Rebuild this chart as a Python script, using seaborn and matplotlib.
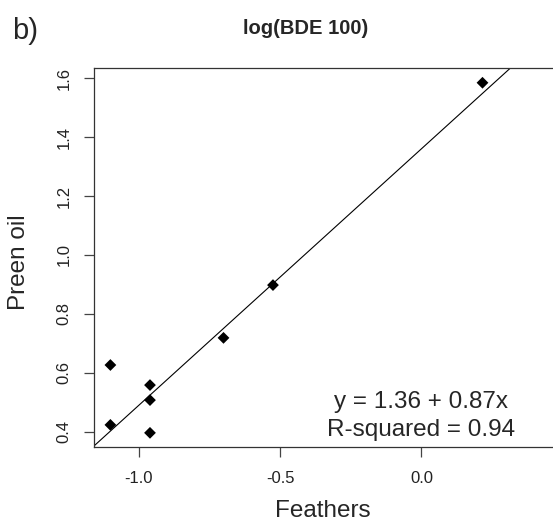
import matplotlib
matplotlib.use("Agg")
import matplotlib.pyplot as plt
import seaborn as sns
import numpy as np
import pandas as pd

# Data
feathers = [-1.10, -0.96, -0.96, -1.10, -0.96, -0.70, -0.525, 0.216]
preen_oil = [0.627, 0.559, 0.508, 0.424, 0.397, 0.719, 0.898, 1.584]
intercept = 1.36
slope = 0.87
x_ticks = [-1.0, -0.5, 0.0]
x_tick_labels = ["-1.0", "-0.5", "0.0"]
y_ticks = [0.4, 0.6, 0.8, 1.0, 1.2, 1.4, 1.6]
y_tick_labels = ["0.4", "0.6", "0.8", "1.0", "1.2", "1.4", "1.6"]
title = "log(BDE 100)"
panel = "b)"
eq_text = "y = 1.36 + 0.87x"
r2_text = "R-squared = 0.94"

sns.set_style("ticks")
plt.rcParams['font.family'] = ['Liberation Sans', 'DejaVu Sans']

W, H = 553, 524
fig = plt.figure(figsize=(W / 100, H / 100), dpi=100)
ax = fig.add_axes([94 / W, 1 - 447 / H, (556 - 94) / W, (447 - 68) / H])

xlim = (-1.158, 0.476)
ylim = (0.349, 1.634)

df = pd.DataFrame({"Feathers": feathers, "Preen oil": preen_oil})

# regression line across the whole axis range
lx = np.array(xlim)
line_df = pd.DataFrame({"x": lx, "y": intercept + slope * lx})
sns.lineplot(data=line_df, x="x", y="y", ax=ax, color="black", linewidth=0.8)

sns.scatterplot(data=df, x="Feathers", y="Preen oil", ax=ax, marker="D",
                s=36, color="black", edgecolor="none", zorder=3)

ax.set_xlim(*xlim)
ax.set_ylim(*ylim)
ax.set_xticks(x_ticks)
ax.set_xticklabels(x_tick_labels)
ax.set_yticks(y_ticks)
ax.set_yticklabels(y_tick_labels, rotation=90, va="center")
ax.tick_params(axis="both", direction="out", length=7, width=0.9,
               color="#444444", labelsize=12, labelcolor="#222222")
ax.tick_params(axis="x", pad=10)
ax.tick_params(axis="y", pad=9)
for s in ax.spines.values():
    s.set_visible(True)
    s.set_linewidth(0.9)
    s.set_color("#333333")

ax.set_xlabel("")
ax.set_ylabel("")
fig.text(323 / W, 1 - 517 / H, "Feathers", ha="center", va="baseline",
         fontsize=17.5)
fig.text(19 / W, 1 - 262 / H, "Preen oil", ha="center", va="center",
         rotation=90, fontsize=17.5)

fig.text(306 / W, 1 - 29 / H, title, ha="center", va="center",
         fontsize=14.5, fontweight="bold")
fig.text(12 / W, 1 - 31 / H, panel, ha="left", va="center", fontsize=21)

ax.text(421 / W, 1 - 402 / H, eq_text, transform=fig.transFigure,
        ha="center", va="center", fontsize=17.5)
ax.text(421 / W, 1 - 430 / H, r2_text, transform=fig.transFigure,
        ha="center", va="center", fontsize=17.5)

fig.savefig("out.png", dpi=100)
